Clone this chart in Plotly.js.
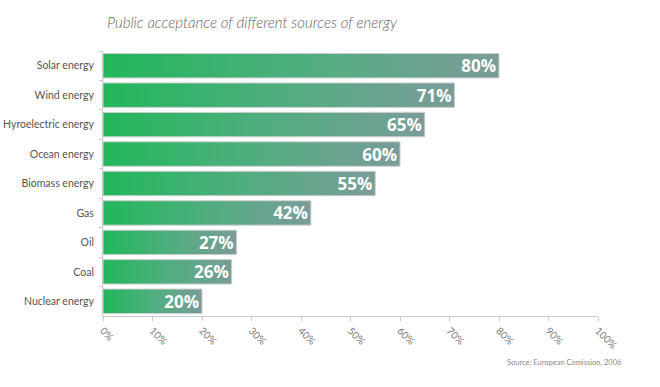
<!DOCTYPE html>
<html>
<head>
<meta charset="utf-8">
<script src="https://cdn.plot.ly/plotly-3.0.1.min.js"></script>
<style>html,body{margin:0;padding:0;background:#fff;}#chart{width:660px;height:387px;}</style>
</head>
<body>
<div id="chart"></div>
<script>
const categories = ["Solar energy","Wind energy","Hyroelectric energy","Ocean energy","Biomass energy","Gas","Oil","Coal","Nuclear energy"];
const values = [80,71,65,60,55,42,27,26,20];
const xTickValues = [0,10,20,30,40,50,60,70,80,90,100];
const xTickLabels = ["0%","10%","20%","30%","40%","50%","60%","70%","80%","90%","100%"];
const titleText = "Public acceptance of different sources of energy";
const sourceText = "Source: European Comission, 2006";

const trace = {
  type: 'bar',
  orientation: 'h',
  y: categories,
  x: values,
  marker: {color: '#22b75b', line: {color: '#cfcfcf', width: 1}},
  text: values.map(v => v + '%'),
  texttemplate: '%{text}',
  textposition: 'inside',
  insidetextanchor: 'end',
  textangle: 0,
  constraintext: 'none',
  insidetextfont: {family: 'Open Sans, sans-serif', size: 17, color: '#ffffff', weight: 700},
  hoverinfo: 'none'
};

const layout = {
  width: 660, height: 387,
  margin: {l: 103, r: 62, t: 51, b: 71},
  paper_bgcolor: '#ffffff', plot_bgcolor: '#ffffff',
  font: {family: 'Lato, sans-serif', color: '#555'},
  bargap: 0.17,
  showlegend: false,
  title: {text: titleText, font: {family: 'Lato, sans-serif', size: 15, color: '#666', style: 'italic', weight: 300},
          xref: 'container', x: 107/660, xanchor: 'left', yref: 'container', y: 1 - 23/387, yanchor: 'middle'},
  xaxis: {range: [0, 100], tickvals: xTickValues, ticktext: xTickLabels, tickangle: 45,
          showgrid: false, zeroline: false, showline: true, linecolor: '#cccccc', linewidth: 1,
          ticks: 'outside', ticklen: 4, tickcolor: '#cccccc',
          tickfont: {family: 'Lato, sans-serif', size: 10, color: '#777'}},
  yaxis: {autorange: 'reversed', showgrid: false, zeroline: false, showline: true, linecolor: '#cccccc',
          ticks: 'outside', ticklen: 3, tickcolor: '#cccccc', tickson: 'boundaries', ticklabelstandoff: 6,
          tickfont: {family: 'Lato, sans-serif', size: 10.5, color: '#555'}},
  annotations: [{text: sourceText, xref: 'paper', yref: 'paper', x: (624-103)/495, y: (316-362)/265,
                 xanchor: 'right', yanchor: 'middle', showarrow: false,
                 font: {family: 'Lato, sans-serif', size: 7.5, color: '#888'}}]
};

function applyGradient(gd) {
  const svg = gd.querySelector('svg.main-svg');
  if (!svg) return;
  let defs = svg.querySelector('defs');
  if (!defs) { defs = document.createElementNS('http://www.w3.org/2000/svg','defs'); svg.insertBefore(defs, svg.firstChild); }
  if (!svg.querySelector('#barGrad')) {
    const g = document.createElementNS('http://www.w3.org/2000/svg','linearGradient');
    g.setAttribute('id','barGrad');
    g.setAttribute('x1','0'); g.setAttribute('y1','0'); g.setAttribute('x2','1'); g.setAttribute('y2','0');
    [['0','#22b75b'],['0.5','#4fae7e'],['1','#7a9c9a']].forEach(([o,c]) => {
      const s = document.createElementNS('http://www.w3.org/2000/svg','stop');
      s.setAttribute('offset', o); s.setAttribute('stop-color', c); g.appendChild(s);
    });
    defs.appendChild(g);
  }
  gd.querySelectorAll('.barlayer .point path').forEach(p => { p.style.fill = 'url(#barGrad)'; });
}

Plotly.newPlot('chart', [trace], layout, {displayModeBar: false, staticPlot: true}).then(gd => applyGradient(gd));
</script>
</body>
</html>
